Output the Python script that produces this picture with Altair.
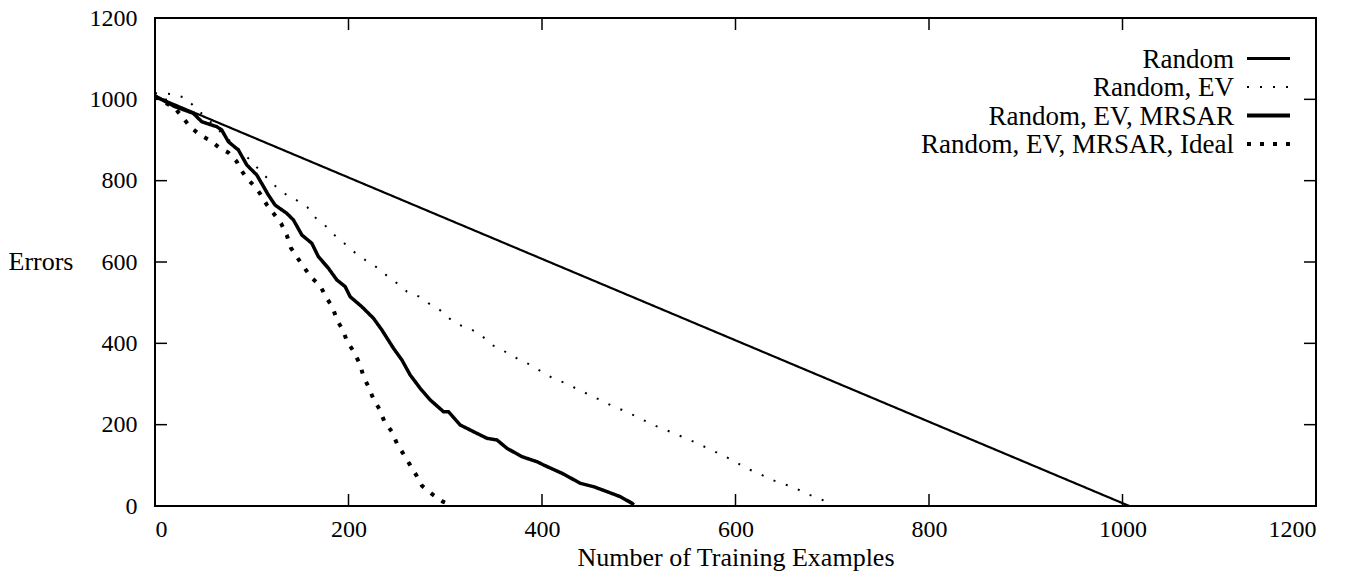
import altair as alt
import pandas as pd

series_names = ["Random", "Random, EV", "Random, EV, MRSAR", "Random, EV, MRSAR, Ideal"]

random_x = [0, 1007]
random_y = [1008, 0]

ev_x = [0, 18, 31, 55, 75, 100, 108.6, 117, 126, 136, 147, 157.6, 164.5, 175, 183.4, 193, 202, 212,
        222, 233, 242, 252, 260.5, 273, 283, 294, 303, 314, 326, 337, 346.6, 357, 368, 379, 390, 401,
        413, 424.5, 436, 447.6, 459, 471, 483, 494, 506, 517.6, 530, 542, 554, 566, 578, 590, 601,
        612, 624.5, 636, 648, 659, 671, 683, 695, 700]
ev_y = [1015, 1013, 1004, 950, 903, 847, 824, 804, 783, 765, 751, 734.5, 711.5, 692, 670.5, 652, 632, 613,
        598, 581, 561, 545, 527, 515, 498, 483, 463, 446, 435, 421, 398, 386, 371, 357, 345, 328,
        312, 302, 288, 275, 262, 248, 236, 224, 210, 197, 185, 173, 161, 148, 134.5, 121, 107,
        92, 79.5, 66, 55, 47.5, 33, 21, 10, 2]

mrsar_x = [0, 20.7, 39.6, 48.3, 63.8, 69, 75.8, 86.2, 94.9, 105.2, 117.2, 124.1, 136.2, 143.1, 151.8,
           162.1, 168.9, 179.3, 188, 196.6, 201.7, 213.8, 225.8, 234.5, 246.5, 255.2, 263.8, 274.1,
           284.5, 298.2, 303.4, 315.5, 329.3, 343.1, 353.5, 363.8, 379.3, 394.9, 401.7, 420.7, 439.7,
           453.4, 467.3, 481, 493.1, 495]
mrsar_y = [1008, 982, 965.6, 945, 932.7, 924.6, 895.8, 875.4, 838.5, 814, 764.7, 740, 719.7, 703.3, 666.4,
           646, 613, 584.5, 555.7, 539.3, 514.7, 490, 461.6, 432.8, 387.8, 359, 322, 289.4,
           260.7, 231.9, 231.9, 199.2, 182.7, 166.5, 162.3, 141.9, 121.2, 108.9, 100.8, 80.4, 55.8,
           47.5, 35.2, 22.9, 6.6, 3]

ideal_x = [0, 21.4, 36.2, 46.6, 56.9, 66.5, 75.8, 84.5, 87.9, 94.9, 103.4, 108.6, 115.5, 122.4, 130.3,
           136.2, 140.4, 147.6, 154.1, 161.4, 170.7, 176.9, 183.8, 188, 194.2, 198.6, 205.9, 212, 215.5,
           220.7, 225.8, 232, 237.2, 244.8, 250, 256.2, 263.1, 270, 275.9, 286.2, 297.6, 303.4, 305]
ideal_y = [1008, 976, 933, 912, 899, 881, 869, 847, 830, 806, 785, 768, 741, 720, 695,
           666, 635, 609, 587, 562, 542, 513, 488, 457, 433, 404, 378, 347.5, 318,
           293, 263, 238, 207, 183, 154, 130, 103, 76, 50, 29.5, 10.7, 4.9, 0]

x_ticks = [0, 200, 400, 600, 800, 1000, 1200]
y_ticks = [0, 200, 400, 600, 800, 1000, 1200]

# styles per series (gnuplot-like)
styles = [
    dict(strokeWidth=2.2, strokeDash=[1, 0]),
    dict(strokeWidth=2, strokeDash=[2, 11]),
    dict(strokeWidth=3.5, strokeDash=[1, 0]),
    dict(strokeWidth=4, strokeDash=[4, 9]),
]
key_widths = [2.8, 2, 4, 4]

FONT = "Liberation Serif"
W, H = 1161, 488
xscale = alt.Scale(domain=[0, 1200], nice=False, zero=False)
yscale = alt.Scale(domain=[0, 1200], nice=False)

xaxis = alt.Axis(values=x_ticks, format="d", title="Number of Training Examples", labelPadding=11,
                 titleY=51, titleBaseline="middle")
yaxis = alt.Axis(values=y_ticks, format="d", title="Errors", labelPadding=18, titleAngle=0,
                 titleX=-147, titleY=243, titleAlign="left", titleBaseline="middle")

layers = []
for idx, (name, xs, ys) in enumerate(zip(series_names, [random_x, ev_x, mrsar_x, ideal_x],
                                         [random_y, ev_y, mrsar_y, ideal_y])):
    d = pd.DataFrame({"x": xs, "y": ys, "order": list(range(len(xs)))})
    layers.append(
        alt.Chart(d).mark_line(color="black", clip=True, strokeCap="butt", **styles[idx]).encode(
            x=alt.X("x:Q", scale=xscale, axis=xaxis),
            y=alt.Y("y:Q", scale=yscale, axis=yaxis),
            order="order:Q",
        )
    )

xt = pd.DataFrame({"x": x_ticks})
yt = pd.DataFrame({"y": y_ticks})
tick_style = dict(color="black", strokeWidth=1.5)
layers.append(alt.Chart(xt).mark_rule(**tick_style).encode(
    x=alt.X("x:Q", scale=xscale, axis=xaxis), y=alt.value(H), y2=alt.value(H - 12)))
layers.append(alt.Chart(xt).mark_rule(**tick_style).encode(
    x=alt.X("x:Q", scale=xscale, axis=xaxis), y=alt.value(0), y2=alt.value(12)))
layers.append(alt.Chart(yt).mark_rule(**tick_style).encode(
    y=alt.Y("y:Q", scale=yscale, axis=yaxis), x=alt.value(0), x2=alt.value(12)))
layers.append(alt.Chart(yt).mark_rule(**tick_style).encode(
    y=alt.Y("y:Q", scale=yscale, axis=yaxis), x=alt.value(W), x2=alt.value(W - 12)))

# gnuplot-style key: label right-aligned, sample line to its right
row_y = [40.5, 69, 97.5, 126]
for idx, name in enumerate(series_names):
    ld = pd.DataFrame({"label": [name]})
    layers.append(alt.Chart(ld).mark_text(align="right", baseline="middle", font=FONT,
                                          fontSize=27, color="black").encode(
        text="label:N", x=alt.value(1079), y=alt.value(row_y[idx] + 1)))
    st = dict(styles[idx])
    st["strokeWidth"] = key_widths[idx]
    layers.append(alt.Chart(ld).mark_rule(color="black", strokeCap="butt", **st).encode(
        x=alt.value(1092), x2=alt.value(1135), y=alt.value(row_y[idx])))

chart = alt.layer(*layers).properties(
    width=W, height=H,
    autosize=alt.AutoSizeParams(type="none"),
    padding={"left": 147, "top": 10, "right": 35, "bottom": 68},
).configure_view(
    stroke="black", strokeWidth=2
).configure_axis(
    grid=False, domain=False, ticks=False,
    labelFont=FONT, labelFontSize=24, labelColor="black",
    titleFont=FONT, titleFontSize=26, titleFontWeight="normal", titleColor="black",
)

chart.save("out.html", embed_options={"renderer": "svg", "actions": False})
